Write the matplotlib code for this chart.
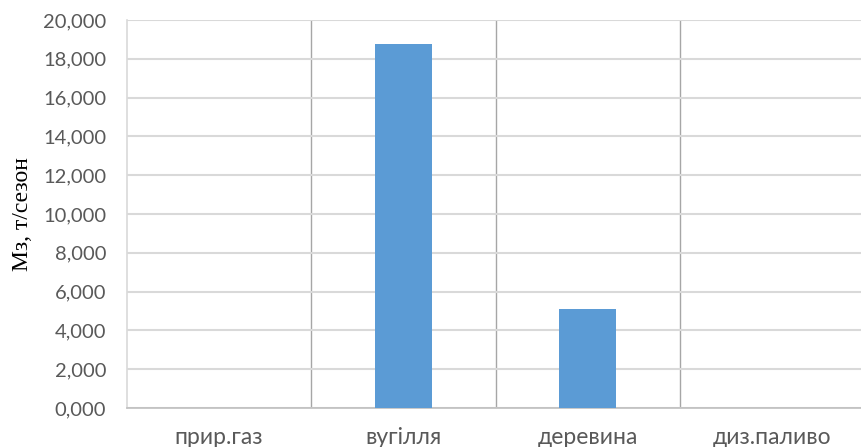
import matplotlib
matplotlib.use("Agg")
import matplotlib.pyplot as plt
from matplotlib.ticker import FuncFormatter

categories = ["прир.газ", "вугілля", "деревина", "диз.паливо"]
values = [0, 18760, 5090, 0]
y_ticks = [0, 2000, 4000, 6000, 8000, 10000, 12000, 14000, 16000, 18000, 20000]

fig = plt.figure(figsize=(8.61, 4.47), dpi=100)
ax = fig.add_axes([127 / 861, 1 - 408 / 447, 737 / 861, 388 / 447])

x = list(range(len(categories)))
ax.bar(x, values, width=0.31, color="#5B9BD5", zorder=3)

ax.set_xlim(-0.5, len(categories) - 0.5)
ax.set_ylim(0, 20000)
ax.set_yticks(y_ticks)
ax.yaxis.set_major_formatter(FuncFormatter(lambda v, p: f"{int(v) // 1000},000" if v else "0,000"))
ax.set_xticks(x)
ax.set_xticklabels(categories)
ax.set_xticks([i + 0.5 for i in x[:-1]], minor=True)

ax.grid(axis="y", which="major", color="#d9d9d9", linewidth=1.5, zorder=0)
ax.grid(axis="x", which="minor", color="#a6a6a6", linewidth=1.0, zorder=1)
ax.grid(axis="x", which="major", visible=False)

for s in ["top", "right"]:
    ax.spines[s].set_visible(False)
ax.spines["left"].set_color("#d9d9d9")
ax.spines["left"].set_linewidth(1.2)
ax.spines["bottom"].set_color("#bfbfbf")
ax.spines["bottom"].set_linewidth(1.2)

ax.tick_params(axis="both", which="both", length=0)
ax.tick_params(axis="y", pad=15, labelsize=14.5, labelcolor="#595959")
ax.tick_params(axis="x", pad=14, labelsize=16.5, labelcolor="#595959")
for lab in ax.get_xticklabels() + ax.get_yticklabels():
    lab.set_fontfamily("Lato")

ax.set_ylabel("Мз, т/сезон", fontsize=17, family="Liberation Serif", color="black")
ax.yaxis.set_label_coords(-0.1275, 0.5)

fig.savefig("out.png", dpi=100)
